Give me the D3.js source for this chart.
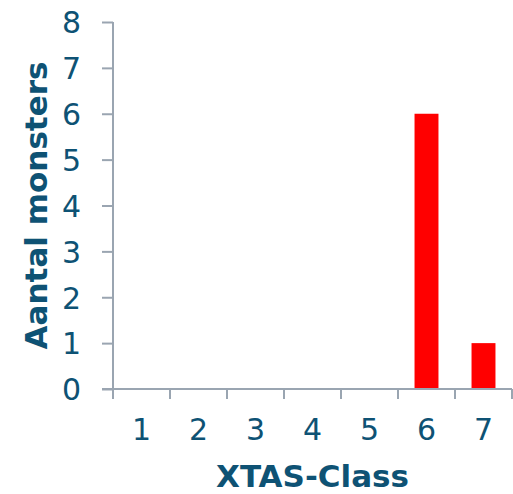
<!DOCTYPE html>
<html>
<head>
<meta charset="utf-8">
<script src="https://cdn.jsdelivr.net/npm/d3@7/dist/d3.min.js"></script>
<style>
  html, body { margin: 0; padding: 0; background: #fff; }
  svg { display: block; }
</style>
</head>
<body>
<svg id="chart" width="513" height="494"></svg>
<script>
const categories = ["1", "2", "3", "4", "5", "6", "7"];
const values = [0, 0, 0, 0, 0, 6, 1];
const yTicks = [0, 1, 2, 3, 4, 5, 6, 7, 8];
const xTitle = "XTAS-Class";
const yTitle = "Aantal monsters";

const W = 513, H = 494;
const plot = { left: 113, right: 512, top: 22, bottom: 389 };
const textColor = "#0e5274";
const axisColor = "#9aa5b1";
const fontFamily = "Verdana, 'DejaVu Sans', sans-serif";

const svg = d3.select("#chart");

const xBand = d3.scaleBand().domain(categories).range([plot.left, plot.right]);
const y = d3.scaleLinear().domain([0, 8]).range([plot.bottom, plot.top]);

// bars
svg.append("g").selectAll("rect")
  .data(categories.map((c, i) => ({ c, v: values[i] })))
  .join("rect")
  .attr("x", d => xBand(d.c) + xBand.bandwidth() * 0.29)
  .attr("width", xBand.bandwidth() * 0.42)
  .attr("y", d => y(d.v))
  .attr("height", d => y(0) - y(d.v))
  .attr("fill", "#ff0000");

// y axis
const yAxis = d3.axisLeft(y).tickValues(yTicks).tickFormat(d3.format("d")).tickSize(11).tickSizeOuter(0).tickPadding(21);
const gy = svg.append("g").attr("transform", `translate(${plot.left},0)`).call(yAxis);
gy.select(".domain").attr("stroke", axisColor).attr("stroke-width", 2).attr("d", `M0,${plot.top}V${plot.bottom + 10}`);
gy.selectAll(".tick line").attr("stroke", axisColor).attr("stroke-width", 2);
gy.selectAll(".tick text").attr("fill", textColor).style("font-family", fontFamily).style("font-size", "30px").attr("dy", "0.36em");

// x axis
const xAxis = d3.axisBottom(xBand).tickSize(0).tickPadding(30);
const gx = svg.append("g").attr("transform", `translate(0,${plot.bottom})`).call(xAxis);
gx.select(".domain").attr("stroke", axisColor).attr("stroke-width", 2).attr("d", `M${plot.left - 11},0H${plot.right}`);
gx.selectAll(".tick text").attr("fill", textColor).style("font-family", fontFamily).style("font-size", "30px");
// category boundary ticks
const bounds = categories.map(c => xBand(c)).concat([plot.right]);
gx.append("g").selectAll("line").data(bounds).join("line")
  .attr("x1", d => d).attr("x2", d => d).attr("y1", 0).attr("y2", 10)
  .attr("stroke", axisColor).attr("stroke-width", 2);

// titles
svg.append("text")
  .attr("x", (plot.left + plot.right) / 2)
  .attr("y", 487)
  .attr("text-anchor", "middle")
  .attr("fill", textColor)
  .style("font-family", fontFamily)
  .style("font-weight", "bold")
  .style("font-size", "31px")
  .text(xTitle);

svg.append("text")
  .attr("transform", `translate(47,${(plot.top + plot.bottom) / 2}) rotate(-90)`)
  .attr("text-anchor", "middle")
  .attr("fill", textColor)
  .style("font-family", fontFamily)
  .style("font-weight", "bold")
  .style("font-size", "31px")
  .text(yTitle);
</script>
</body>
</html>
